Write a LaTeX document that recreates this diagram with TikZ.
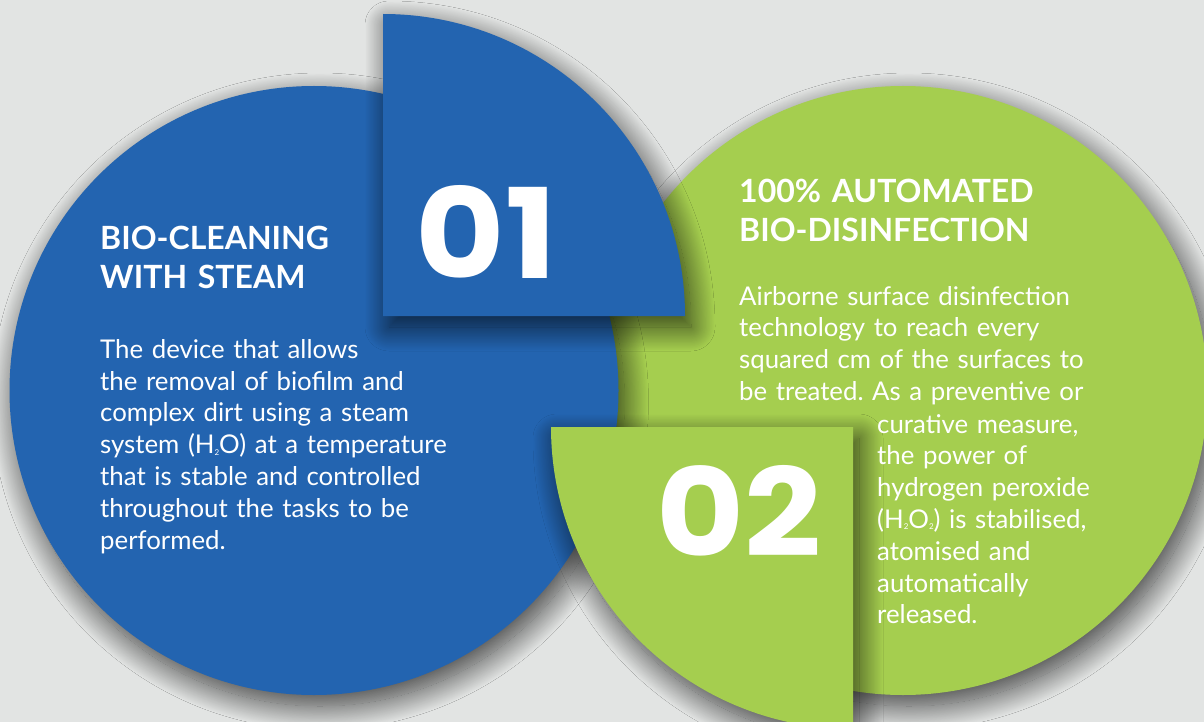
\documentclass[tikz,border=0pt]{standalone}
\usepackage{fontspec}
\setmainfont{Lato}
\newfontfamily\numfont{Poppins}
\usetikzlibrary{shadows.blur}
\definecolor{bgc}{HTML}{E2E4E3}
\definecolor{bluec}{HTML}{2364B0}
\definecolor{greenc}{HTML}{A5CE4F}
\newcommand\mysubtwo{\raisebox{-1.5pt}{\fontsize{8}{8}\selectfont 2}}
\frenchspacing
\tikzset{
  shd/.style={blur shadow={shadow xshift=6pt, shadow yshift=-11pt, shadow blur radius=24pt, shadow opacity=72, shadow blur steps=40}},
  heading/.style={text=white, font=\fontsize{32}{39}\selectfont\bfseries, align=left, text width=420pt, inner sep=0pt, anchor=base west},
  body/.style={text=white, font=\fontsize{25.8}{31.8}\selectfont, align=left, text width=420pt, inner sep=0pt, anchor=base west},
  bignum/.style={text=white, inner sep=0pt}
}
\begin{document}
\begin{tikzpicture}[x=1pt,y=1pt]
\fill[bgc] (0,0) rectangle (1204,-722);
\useasboundingbox (0,0) rectangle (1204,-722);
% green circle
\fill[greenc, shd] (903,-390.5) circle[radius=304.5];
% blue circle
\fill[bluec, shd] (314,-390.5) circle[radius=304.5];
% quarter 01
\fill[bluec, shd] (383,-316) -- (383,-14) arc[start angle=90, end angle=0, radius=302] -- cycle;
% quarter 02
\fill[greenc, shd] (853,-427) -- (551,-427) arc[start angle=180, end angle=270, radius=302] -- cycle;
% numbers
\node[bignum] (n1) at (486.5,-231.5) {\resizebox{141pt}{93pt}{\numfont\bfseries 01}};
\node[bignum] (n2) at (739.5,-510.5) {\resizebox{165pt}{91pt}{\numfont\bfseries 02}};
% blue texts
\node[heading] (h1) at (100,-249) {BIO-CLEANING\\WITH STEAM};
\node[body] (b1) at (100,-358.3) {The device that allows\\the removal of biofilm and\\complex dirt using a steam\\system (H\mysubtwo O) at a temperature\\that is stable and controlled\\throughout the tasks to be\\performed.};
% green texts
\node[heading] (h2) at (739,-203) {100\% AUTOMATED\\BIO-DISINFECTION};
\node[body] (g1) at (739,-305) {Airborne surface disinfection\\technology to reach every\\squared cm of the surfaces to\\be treated. As a preventive or};
\node[body] (g2) at (877,-433) {curative measure,\\the power of\\hydrogen peroxide\\(H\mysubtwo O\mysubtwo) is stabilised,\\atomised and\\automatically\\released.};
\end{tikzpicture}
\end{document}
